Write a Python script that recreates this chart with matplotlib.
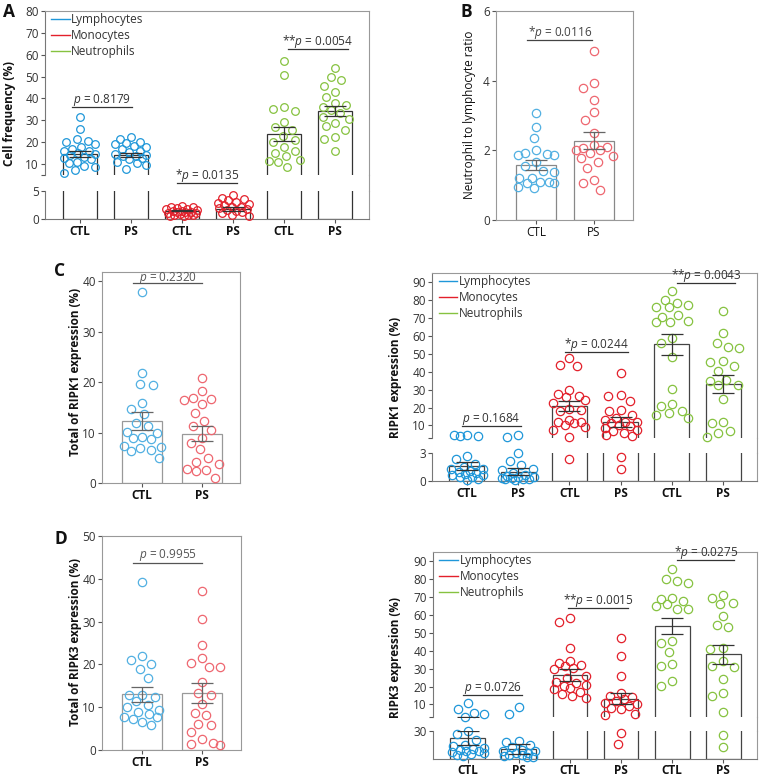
import numpy as np
import matplotlib
matplotlib.use("Agg")
import matplotlib.pyplot as plt
from matplotlib.lines import Line2D

# figure size in pixels
W, H = 759, 778

plt.rcParams['font.family'] = ['Open Sans', 'DejaVu Sans']
plt.rcParams['mathtext.fontset'] = 'custom'
plt.rcParams['mathtext.rm'] = 'Open Sans'
plt.rcParams['mathtext.it'] = 'Open Sans:italic'
plt.rcParams['font.size'] = 8.5

# ---------------- data ----------------
groups = ["CTL", "PS", "CTL", "PS", "CTL", "PS"]
groups2 = ["CTL", "PS"]
cells = ["Lymphocytes", "Monocytes", "Neutrophils"]

# A: cell frequency (%)
freq_lym_ctl = [31.3, 26.0, 21.5, 20.6, 20.2, 19.3, 18.0, 17.0, 16.2, 15.8, 15.0, 14.5, 14.1, 13.3, 12.7, 12.2, 11.0, 10.3, 9.0, 8.6, 7.2, 5.8]
freq_lym_ps = [22.6, 21.4, 20.3, 19.6, 19.2, 18.4, 17.7, 16.8, 15.8, 15.3, 14.7, 14.3, 13.8, 13.5, 12.7, 12.3, 10.9, 10.5, 9.7, 7.7]
freq_mon_ctl = [2.3, 2.2, 2.1, 1.9, 1.75, 1.7, 1.6, 1.5, 1.45, 1.3, 1.3, 1.2, 1.1, 1.05, 0.95, 0.8, 0.75, 0.7, 0.6, 0.45]
freq_mon_ps = [4.2, 3.8, 3.5, 3.4, 3.1, 2.8, 2.7, 2.5, 2.2, 2.1, 1.9, 1.75, 1.6, 1.45, 1.3, 1.05, 0.75, 0.6]
freq_neu_ctl = [57.1, 50.8, 36.0, 35.0, 34.3, 29.3, 26.9, 25.6, 23.0, 21.1, 19.9, 18.0, 16.2, 15.0, 13.5, 12.0, 11.5, 10.8, 8.5]
freq_neu_ps = [54.0, 49.6, 48.4, 45.7, 42.9, 40.8, 37.8, 36.9, 36.3, 34.7, 33.2, 31.4, 30.7, 28.7, 27.5, 25.6, 22.6, 21.4, 15.8]
freq_mean = [14.7, 14.3, 1.5, 1.8, 23.7, 34.3]
freq_sem = [1.4, 0.9, 0.15, 0.3, 3.2, 2.2]

# B: neutrophil to lymphocyte ratio
nlr_ctl = [3.06, 2.66, 2.34, 2.01, 1.91, 1.87, 1.88, 1.9, 1.67, 1.56, 1.39, 1.4, 1.2, 1.1, 1.08, 1.07, 1.05, 0.94, 0.91, 1.22]
nlr_ps = [4.86, 3.94, 3.78, 3.44, 3.11, 2.87, 2.49, 2.15, 2.1, 2.06, 2.01, 2.0, 1.91, 1.85, 1.77, 1.66, 1.48, 1.15, 1.07, 0.86]
nlr_mean = [1.58, 2.28]
nlr_sem = [0.15, 0.25]

# C left: total RIPK1 expression (%)
r1tot_ctl = [37.8, 21.8, 19.6, 19.4, 15.8, 14.6, 13.6, 11.8, 11.3, 10.2, 10.0, 9.2, 8.9, 8.7, 7.4, 7.2, 7.0, 6.6, 6.4, 4.9]
r1tot_ps = [20.9, 18.2, 16.8, 16.6, 16.4, 15.7, 13.8, 12.3, 11.2, 10.5, 8.9, 8.0, 6.7, 4.9, 4.1, 3.8, 2.8, 2.5, 2.3, 0.9]
r1tot_mean = [12.3, 9.8]
r1tot_sem = [1.8, 1.5]

# D left: total RIPK3 expression (%)
r3tot_ctl = [39.2, 21.9, 21.1, 20.2, 19.0, 16.8, 12.9, 12.9, 12.5, 11.5, 10.5, 10.0, 9.4, 8.8, 8.4, 7.8, 7.6, 7.2, 6.6, 5.9]
r3tot_ps = [37.1, 30.7, 24.5, 21.5, 20.3, 19.4, 19.3, 15.8, 13.3, 12.9, 10.8, 8.75, 8.2, 6.1, 5.9, 4.1, 2.5, 1.6, 1.1, 1.3]
r3tot_mean = [13.0, 13.3]
r3tot_sem = [1.7, 2.4]

# C right: RIPK1 expression (%) per cell type
r1_lym_ctl = [4.7, 4.7, 4.1, 3.9, 2.7, 2.35, 1.8, 1.55, 1.3, 1.26, 1.08, 1.0, 0.83, 0.76, 0.65, 0.6, 0.47, 0.4, 0.18, 0.1]
r1_lym_ps = [4.7, 3.6, 2.95, 2.1, 1.73, 1.26, 1.2, 0.83, 0.65, 0.54, 0.47, 0.4, 0.35, 0.29, 0.25, 0.22, 0.18, 0.1]
r1_mon_ctl = [47.5, 43.8, 42.9, 29.9, 27.4, 26.5, 26.1, 24.3, 22.4, 19.1, 18.7, 18.2, 12.8, 12.2, 11.7, 11.3, 10.4, 9.4, 7.6, 3.3, 2.4]
r1_mon_ps = [39.3, 26.7, 26.5, 23.4, 18.7, 17.8, 15.9, 14.1, 12.8, 12.2, 11.7, 11.3, 10.4, 9.8, 8.5, 7.6, 6.7, 5.7, 4.4, 3.9, 2.6, 1.3]
r1_neu_ctl = [85.2, 80.0, 78.1, 77.2, 76.3, 75.9, 71.6, 70.7, 67.9, 68.2, 67.6, 58.6, 55.8, 48.4, 30.2, 21.9, 20.6, 17.8, 16.9, 15.9, 14.1]
r1_neu_ps = [74.0, 61.4, 55.8, 54.0, 53.1, 46.0, 45.6, 42.9, 40.1, 35.4, 35.0, 32.6, 32.8, 24.7, 11.9, 11.3, 6.7, 5.7, 3.5]
r1_mean = [1.6, 1.0, 20.6, 12.0, 55.3, 33.0]
r1_sem = [0.4, 0.35, 2.8, 2.6, 5.8, 5.0]

# D right: RIPK3 expression (%) per cell type
r3_lym_ctl = [10.9, 7.2, 5.3, 4.4, 3.2, 2.95, 2.64, 2.0, 1.55, 1.37, 1.2, 1.0, 0.83, 0.72, 0.54, 0.47, 0.29, 1.1, 0.9, 0.6]
r3_lym_ps = [8.4, 4.7, 1.9, 1.8, 1.55, 1.26, 1.0, 0.83, 0.65, 0.47, 0.36, 0.25, 0.18, 0.83, 0.6, 0.4]
r3_mon_ctl = [58.2, 55.9, 41.6, 34.2, 32.9, 31.8, 31.5, 30.5, 29.5, 25.8, 24.9, 22.5, 21.7, 20.6, 20.2, 19.3, 18.4, 16.9, 15.6, 14.7, 13.7]
r3_mon_ps = [47.2, 37.0, 25.8, 16.5, 14.7, 14.1, 12.8, 11.9, 10.9, 10.0, 9.1, 7.8, 7.2, 4.4, 3.9, 2.75, 1.57]
r3_neu_ctl = [85.3, 79.8, 78.8, 77.9, 69.5, 68.6, 67.7, 65.8, 64.9, 63.4, 63.0, 45.3, 44.4, 39.2, 32.7, 31.4, 23.0, 20.2]
r3_neu_ps = [70.8, 69.5, 66.4, 65.8, 59.3, 54.1, 53.3, 41.6, 41.1, 34.2, 31.4, 31.0, 24.0, 16.5, 14.7, 5.7, 2.56, 1.25]
r3_mean = [2.25, 1.08, 26.6, 13.3, 53.7, 37.9]
r3_sem = [0.72, 0.55, 3.3, 3.1, 4.6, 5.3]

# ---------------- style ----------------
blue, red, green = '#1f97d9', '#e3202b', '#86c240'
lblue, lred = '#52b0e2', '#ee6770'
cols6 = [blue, blue, red, red, green, green]

fig = plt.figure(figsize=(W / 100, H / 100), dpi=100)


def px_axes(x0, y0, x1, y1):
    # axes from pixel box (top-left origin)
    return fig.add_axes([x0 / W, 1 - y1 / H, (x1 - x0) / W, (y1 - y0) / H])


def style(ax, spine_col):
    for s in ax.spines.values():
        s.set_color(spine_col)
        s.set_linewidth(0.8)
    ax.tick_params(direction='out', length=3, width=0.8, color='#555',
                   labelcolor='#333', labelsize=8.5, pad=1.5)
    ax.tick_params(axis='x', pad=1.0)


def set_xgroups(ax, labels):
    ax.set_xticks(range(len(labels)))
    ax.set_xticklabels(labels, fontweight='bold', fontsize=8.5, color='#111')


def swarm(ax, xc, vals, half_px, diam_px):
    # simple beeswarm in display pixels, limited to the bar width
    vals = np.asarray(vals, float)
    disp = ax.transData.transform(np.column_stack([np.full(len(vals), xc), vals]))
    ys = disp[:, 1]
    cands = np.linspace(-half_px, half_px, 21)
    cands = cands[np.argsort(np.abs(cands), kind='stable')]
    px, py = [], []
    offs = np.zeros(len(vals))
    for i in np.argsort(-ys):
        best_c, best_d = 0.0, -1.0
        for c in cands:
            d = np.inf if not px else np.min(np.hypot(np.array(px) - c, np.array(py) - ys[i]))
            if d >= diam_px:
                best_c = c
                break
            if d > best_d:
                best_d, best_c = d, c
        offs[i] = best_c
        px.append(best_c)
        py.append(ys[i])
    ppu = ax.transData.transform((1, 0))[0] - ax.transData.transform((0, 0))[0]
    return xc + offs / ppu


def draw(parts, means, sems, pts, colors, edge, errc, ms=5.5, width=0.66):
    # parts: list of (ax, lo, hi) - points with lo < v <= hi are drawn in that axes
    for ax, lo, hi in parts:
        ax.bar(range(len(means)), means, width=width, color='white',
               edgecolor=edge, linewidth=0.9, zorder=1)
        for i, vals in enumerate(pts):
            v = np.array([p for p in vals if lo < p <= hi])
            if len(v):
                half = ax.transData.transform((width / 2 * 0.92, 0))[0] - ax.transData.transform((0, 0))[0]
                xs = swarm(ax, i, v, half, ms * 100 / 72 * 1.35)
                ax.plot(xs, v, 'o', mfc='none', mec=colors[i], mew=0.9, ms=ms,
                        clip_on=False, zorder=3)
        ax.errorbar(range(len(means)), means, yerr=sems, fmt='none', ecolor=errc,
                    elinewidth=0.9, capsize=8, capthick=0.9, zorder=4)


def sig(ax, x0, x1, y, label, dy=3.0, col='#333'):
    ax.plot([x0, x1], [y, y], color=col, lw=0.9, clip_on=False, zorder=5)
    ax.annotate(label, xy=((x0 + x1) / 2, y), xytext=(0, dy), textcoords='offset points',
                ha='center', va='baseline', fontsize=8.5, color=col, annotation_clip=False)


def legend(ax, anchor):
    hs = [Line2D([], [], color=c, lw=1) for c in [blue, red, green]]
    ax.legend(hs, cells, loc='upper left', bbox_to_anchor=anchor, frameon=False,
              handlelength=1.6, handletextpad=0.1, labelspacing=0.25, borderpad=0,
              borderaxespad=0, fontsize=8.5, labelcolor='#333')


def broken(box_top, box_bot, ylim_top, ylim_bot, ticks_top, ticks_bot, labels_bot):
    x1 = box_top[2]
    up = px_axes(*box_top)
    lo = px_axes(*box_bot)
    for ax in (up, lo):
        ax.set_xlim(-0.68, 5.66)
        style(ax, '#777')
    up.set_ylim(*ylim_top)
    lo.set_ylim(*ylim_bot)
    up.spines['bottom'].set_visible(False)
    lo.spines['top'].set_visible(False)
    up.spines['top'].set_color('#999')
    up.spines['right'].set_color('#999')
    lo.spines['right'].set_color('#999')
    up.tick_params(bottom=False, labelbottom=False)
    up.set_yticks([ylim_top[0]] + ticks_top)
    up.set_yticklabels([''] + [str(t) for t in ticks_top])
    lo.set_yticks(ticks_bot)
    lo.set_yticklabels(labels_bot)
    set_xgroups(lo, groups)
    # continuous right border through the break
    fig.add_artist(Line2D([x1 / W, x1 / W], [1 - box_top[3] / H, 1 - box_bot[1] / H],
                          color='#999', lw=0.8))
    return up, lo


# ---------------- panel A ----------------
aU, aL = broken((45, 11, 369, 175), (45, 191, 369, 219), (5, 80), (0, 5),
                list(range(10, 90, 10)), [0, 5], ['0', '5'])
pts_a = [freq_lym_ctl, freq_lym_ps, freq_mon_ctl, freq_mon_ps, freq_neu_ctl, freq_neu_ps]
draw([(aU, 5, 1e9), (aL, -1, 5)], freq_mean, freq_sem, pts_a, cols6, '#333', '#333', ms=5.5)
legend(aU, (0.018, 0.985))
sig(aU, -0.16, 1.02, 36.1, '$p$ = 0.8179')
sig(aU, 1.90, 3.08, 1.34, '*$p$ = 0.0135')
sig(aU, 4.08, 5.24, 62.6, '**$p$ = 0.0054')
fig.text(10 / W, 1 - 113 / H, 'Cell frequency (%)', rotation=90, ha='center', va='center',
         fontsize=8.5, fontweight='bold', color='#111')

# ---------------- panel B ----------------
axB = px_axes(496, 11, 633, 220)
style(axB, '#999')
axB.set_xlim(-0.69, 1.67)
axB.set_ylim(0, 6)
axB.set_yticks([0, 2, 4, 6])
set_xgroups(axB, groups2)
axB.set_xticklabels(groups2, fontweight='normal', fontsize=8.5, color='#111')
draw([(axB, -1, 1e9)], nlr_mean, nlr_sem, [nlr_ctl, nlr_ps], [lblue, lred], '#888', '#666',
     ms=6, width=0.69)
sig(axB, -0.155, 0.966, 5.17, '*$p$ = 0.0116', col='#444')
fig.text(470 / W, 1 - 115 / H, 'Neutrophil to lymphocyte ratio', rotation=90, ha='center',
         va='center', fontsize=8.5, color='#111')

# ---------------- panel C left ----------------
axC = px_axes(102, 272, 240, 483)
style(axC, '#999')
axC.set_xlim(-0.667, 1.633)
axC.set_ylim(0, 41.8)
axC.set_yticks([0, 10, 20, 30, 40])
set_xgroups(axC, groups2)
draw([(axC, -1, 1e9)], r1tot_mean, r1tot_sem, [r1tot_ctl, r1tot_ps], [lblue, lred], '#999',
     '#666', ms=6, width=0.67)
sig(axC, -0.15, 1.0, 39.7, '$p$ = 0.2320', dy=0.8, col='#555')
fig.text(75 / W, 1 - 372 / H, 'Total of RIPK1 expression (%)', rotation=90, ha='center',
         va='center', fontsize=8.5, fontweight='bold', color='#111')

# ---------------- panel C right ----------------
cU, cL = broken((432, 273, 757, 438), (432, 453, 757, 481), (3, 95), (0, 3),
                list(range(10, 100, 10)), [0, 3], ['0', '3'])
pts_c = [r1_lym_ctl, r1_lym_ps, r1_mon_ctl, r1_mon_ps, r1_neu_ctl, r1_neu_ps]
draw([(cU, 3, 1e9), (cL, -1, 3)], r1_mean, r1_sem, pts_c, cols6, '#444', '#333', ms=6, width=0.68)
legend(cU, (0.02, 0.985))
sig(cU, -0.1, 1.05, 9.7, '$p$ = 0.1684')
sig(cU, 1.91, 3.14, 50.9, '*$p$ = 0.0244')
sig(cU, 4.10, 5.23, 89.3, '**$p$ = 0.0043')
fig.text(395 / W, 1 - 377 / H, 'RIPK1 expression (%)', rotation=90, ha='center',
         va='center', fontsize=8.5, fontweight='bold', color='#111')

# ---------------- panel D left ----------------
axD = px_axes(102, 536, 241, 750)
style(axD, '#999')
axD.set_xlim(-0.667, 1.65)
axD.set_ylim(0, 50)
axD.set_yticks([0, 10, 20, 30, 40, 50])
set_xgroups(axD, groups2)
draw([(axD, -1, 1e9)], r3tot_mean, r3tot_sem, [r3tot_ctl, r3tot_ps], [lblue, lred], '#999',
     '#666', ms=6, width=0.67)
sig(axD, -0.15, 1.0, 43.6, '$p$ = 0.9955', dy=4.0, col='#555')
fig.text(75 / W, 1 - 642 / H, 'Total of RIPK3 expression (%)', rotation=90, ha='center',
         va='center', fontsize=8.5, fontweight='bold', color='#111')

# ---------------- panel D right ----------------
dU, dL = broken((433, 552, 757, 717), (433, 731, 757, 759), (3, 95), (0, 3),
                list(range(10, 100, 10)), [3], ['30'])
pts_d = [r3_lym_ctl, r3_lym_ps, r3_mon_ctl, r3_mon_ps, r3_neu_ctl, r3_neu_ps]
draw([(dU, 3, 1e9), (dL, -1, 3)], r3_mean, r3_sem, pts_d, cols6, '#444', '#333', ms=6, width=0.68)
dL.tick_params(axis='x', pad=0.3)
legend(dU, (0.02, 0.985))
sig(dU, -0.1, 1.07, 15.3, '$p$ = 0.0726')
sig(dU, 1.97, 3.13, 63.9, '**$p$ = 0.0015')
sig(dU, 4.10, 5.21, 90.7, '*$p$ = 0.0275')
fig.text(395 / W, 1 - 657 / H, 'RIPK3 expression (%)', rotation=90, ha='center',
         va='center', fontsize=8.5, fontweight='bold', color='#111')

# panel letters
for ch, x, y in [('A', 3, 12), ('B', 461, 12), ('C', 54, 271), ('D', 54, 539)]:
    fig.text(x / W, 1 - y / H, ch, ha='left', va='center', fontsize=12.5,
             fontweight='bold', color='#111')

fig.savefig('out.png', dpi=100)
